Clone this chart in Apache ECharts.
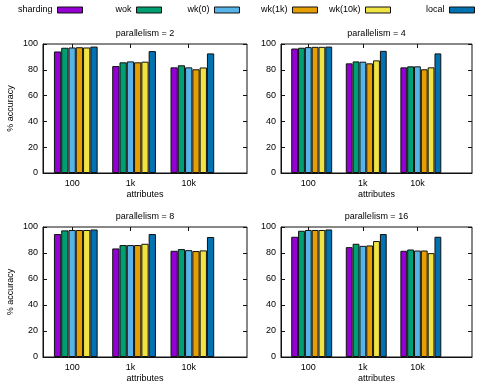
<!DOCTYPE html>
<html><head><meta charset="utf-8">
<script src="https://cdn.jsdelivr.net/npm/echarts@6/dist/echarts.min.js"></script>
<style>html,body{margin:0;padding:0;background:#fff}#c{width:499px;height:385px}</style>
</head><body><div id="c"></div>
<script>
const categories = ['100', '1k', '10k'];
const seriesNames = ['sharding', 'wok', 'wk(0)', 'wk(1k)', 'wk(10k)', 'local'];
const colors = ['#9400d3', '#009e73', '#56b4e9', '#e69f00', '#f0e442', '#0072b2'];
const yTicks = [0, 20, 40, 60, 80, 100];

// rows: sharding, wok, wk(0), wk(1k), wk(10k), local ; columns: 100, 1k, 10k
const par2 = [
  [94.2, 82.9, 81.9],
  [97.1, 85.8, 83.5],
  [97.3, 86.5, 81.9],
  [97.5, 85.8, 80.4],
  [97.3, 86.3, 81.8],
  [98.0, 94.5, 92.7]
];
const par4 = [
  [96.5, 85.0, 81.9],
  [97.1, 86.5, 82.7],
  [97.6, 86.3, 82.7],
  [97.8, 85.0, 80.4],
  [97.8, 87.3, 81.9],
  [98.0, 94.7, 92.7]
];
const par8 = [
  [94.6, 83.5, 81.7],
  [97.4, 86.1, 83.0],
  [97.7, 86.1, 82.2],
  [97.7, 86.1, 81.5],
  [97.7, 87.1, 82.0],
  [98.1, 94.6, 92.3]
];
const par16 = [
  [92.5, 84.5, 81.7],
  [97.1, 87.1, 82.7],
  [97.7, 85.5, 81.9],
  [97.7, 85.8, 81.9],
  [97.7, 89.2, 79.9],
  [98.1, 94.6, 92.5]
];
const panelTitles = ['parallelism = 2', 'parallelism = 4', 'parallelism = 8', 'parallelism = 16'];
const panelValues = [par2, par4, par8, par16];

const FONT = '"Liberation Sans", Arial, sans-serif';
const FS = 9;
const layout = [
  {left: 43, top: 44, width: 204, height: 129, ylab: true},
  {left: 281, top: 44, width: 191, height: 129, ylab: false},
  {left: 43, top: 227, width: 204, height: 130, ylab: true},
  {left: 281, top: 227, width: 191, height: 130, ylab: false}
];
// gnuplot clustered histogram: tic sits half a bar left of the group centre
const shift = -0.0625;
const tickPos = categories.map((c, i) => i + shift);
const xMin = -0.5 + shift, xMax = 3.0 + shift;

const grid = [], xAxis = [], yAxis = [], series = [], graphic = [], legend = [];
const frame = '#111';

layout.forEach((g, p) => {
  grid.push({left: g.left, top: g.top, width: g.width, height: g.height, show: true,
    borderColor: frame, borderWidth: 1, backgroundColor: 'transparent'});
  const tickCommon = {show: true, inside: true, length: 4, lineStyle: {color: frame, width: 1}};
  xAxis.push({gridIndex: p, type: 'value', min: xMin, max: xMax, position: 'bottom',
    splitLine: {show: false},
    axisLine: {show: true, onZero: false, lineStyle: {color: frame, width: 1}},
    axisTick: Object.assign({customValues: tickPos}, tickCommon),
    axisLabel: {customValues: tickPos, margin: 6, color: '#000', fontSize: FS, fontFamily: FONT,
      formatter: v => categories[Math.round(v - shift)]},
    name: 'attributes', nameLocation: 'middle', nameGap: 17,
    nameTextStyle: {color: '#000', fontSize: FS, fontFamily: FONT}});
  xAxis.push({gridIndex: p, type: 'value', min: xMin, max: xMax, position: 'top',
    splitLine: {show: false}, axisLine: {show: false, onZero: false},
    axisTick: Object.assign({customValues: tickPos}, tickCommon),
    axisLabel: {show: false}});
  yAxis.push({gridIndex: p, type: 'value', min: 0, max: 100, interval: 20, position: 'left',
    splitLine: {show: false},
    axisLine: {show: true, onZero: false, lineStyle: {color: frame, width: 1}},
    axisTick: tickCommon,
    axisLabel: {margin: 5, color: '#000', fontSize: FS, fontFamily: FONT},
    name: g.ylab ? '% accuracy' : '', nameLocation: 'middle', nameGap: 28,
    nameTextStyle: {color: '#000', fontSize: FS, fontFamily: FONT}});
  yAxis.push({gridIndex: p, type: 'value', min: 0, max: 100, interval: 20, position: 'right',
    splitLine: {show: false}, axisLine: {show: false, onZero: false},
    axisTick: tickCommon, axisLabel: {show: false}});

  const vals = panelValues[p];
  seriesNames.forEach((name, s) => {
    series.push({
      type: 'bar', name: name, xAxisIndex: p * 2, yAxisIndex: p * 2,
      data: categories.map((c, i) => [i, vals[s][i]]),
      barCategoryGap: '25%', barGap: '0%',
      itemStyle: {color: colors[s], borderColor: '#111', borderWidth: 1},
      emphasis: {disabled: true}, animation: false
    });
  });

  graphic.push({type: 'text', x: g.left + g.width / 2, y: g.top - 10.5,
    style: {text: panelTitles[p], fill: '#000', fontSize: FS, fontFamily: FONT,
      align: 'center', verticalAlign: 'middle'}});
});

const legendRight = [416, 337, 259, 181, 108, 24];
seriesNames.forEach((name, s) => {
  legend.push({data: [name], right: legendRight[s], top: 5.5, padding: 0, align: 'right',
    itemWidth: 25, itemHeight: 6, icon: 'rect',
    itemStyle: {borderColor: '#111', borderWidth: 1},
    textStyle: {color: '#000', fontSize: FS, fontFamily: FONT}});
});

const chart = echarts.init(document.getElementById('c'), null, {renderer: 'canvas'});
chart.setOption({
  animation: false,
  color: colors,
  textStyle: {fontFamily: FONT},
  legend: legend,
  grid: grid, xAxis: xAxis, yAxis: yAxis, series: series, graphic: graphic
});
</script></body></html>
